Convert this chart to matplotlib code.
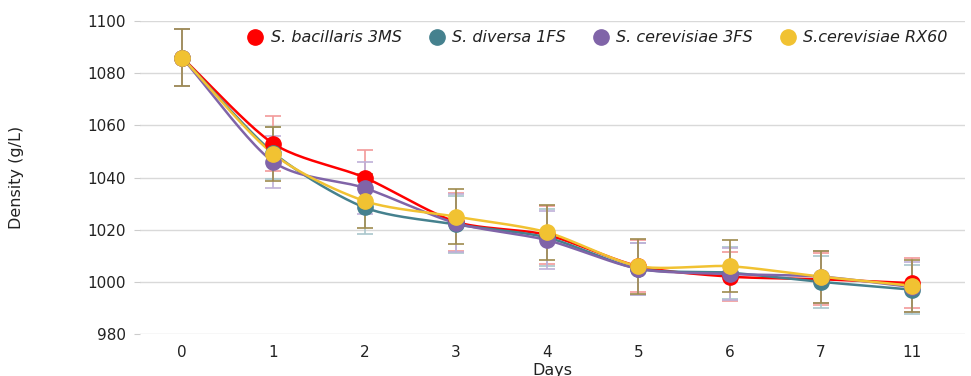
import numpy as np
import matplotlib
matplotlib.use("Agg")
import matplotlib.pyplot as plt
from matplotlib.lines import Line2D

plt.rcParams['font.family'] = ['DejaVu Sans']

days = ['0', '1', '2', '3', '4', '5', '6', '7', '11']
series_names = ['S. bacillaris 3MS', 'S. diversa 1FS', 'S. cerevisiae 3FS', 'S.cerevisiae RX60']
bacillaris = [1086, 1053, 1040, 1023, 1018, 1006, 1002, 1001, 999.5]
diversa = [1086, 1049.5, 1028.5, 1022, 1017, 1005, 1003.5, 1000, 997]
cerevisiae_3fs = [1086, 1046, 1036, 1022.5, 1016, 1005, 1003, 1002, 998]
cerevisiae_rx60 = [1086, 1049, 1031, 1025, 1019, 1006, 1006, 1002, 998.5]
bacillaris_err = [11, 10.5, 10.5, 11, 11, 10, 9.5, 10, 9.5]
diversa_err = [11, 10, 10, 11, 11, 10, 10, 10, 9.5]
cerevisiae_3fs_err = [11, 10, 10, 11, 11, 10, 10, 10, 9.5]
cerevisiae_rx60_err = [11, 10.5, 10.5, 10.5, 10.5, 10.5, 10, 10, 10]

values = [bacillaris, diversa, cerevisiae_3fs, cerevisiae_rx60]
errors = [bacillaris_err, diversa_err, cerevisiae_3fs_err, cerevisiae_rx60_err]
colors = ['#ff0000', '#45818e', '#8064a8', '#f1c232']
err_colors = ['#f29a9a', '#a9c6cc', '#bfb0d8', '#9e8b4e']


def smooth(x, y, n=24):
    x = np.asarray(x, float)
    y = np.asarray(y, float)
    px = np.concatenate([[2 * x[0] - x[1]], x, [2 * x[-1] - x[-2]]])
    py = np.concatenate([[2 * y[0] - y[1]], y, [2 * y[-1] - y[-2]]])
    xs, ys = [], []
    t = np.linspace(0, 1, n)
    for i in range(1, len(px) - 2):
        for arr, out in ((px, xs), (py, ys)):
            p0, p1, p2, p3 = arr[i - 1], arr[i], arr[i + 1], arr[i + 2]
            m1 = (p2 - p0) / 2 * 0.8
            m2 = (p3 - p1) / 2 * 0.8
            h00 = 2 * t**3 - 3 * t**2 + 1
            h10 = t**3 - 2 * t**2 + t
            h01 = -2 * t**3 + 3 * t**2
            h11 = t**3 - t**2
            out.extend(h00 * p1 + h10 * m1 + h01 * p2 + h11 * m2)
    return np.array(xs), np.array(ys)


fig = plt.figure(figsize=(9.71, 3.76), dpi=100)
ax = fig.add_axes([140 / 971, 1 - 334 / 376, (965 - 140) / 971, (334 - 21) / 376])

x = np.arange(len(days))
for vals, errs, c, ec in zip(values, errors, colors, err_colors):
    ax.errorbar(x, vals, yerr=errs, fmt='none', ecolor=ec, elinewidth=1.2,
                capsize=6, capthick=1.2, zorder=2)
for vals, c in zip(values, colors):
    sx, sy = smooth(x, vals)
    ax.plot(sx, sy, color=c, lw=1.8, zorder=3)
    ax.plot(x, vals, 'o', color=c, ms=11, mec=c, zorder=4)

ax.set_xlim(-0.46, 8.58)
ax.set_ylim(980, 1100)
ax.set_yticks(np.arange(980, 1101, 20))
ax.set_xticks(x)
ax.set_xticklabels(days)
for s in ax.spines.values():
    s.set_visible(False)
ax.grid(axis='y', color='#d9d9d9', lw=1)
ax.set_axisbelow(True)
ax.tick_params(axis='x', length=0, labelsize=11, pad=8)
ax.tick_params(axis='y', length=4, color='#cccccc', labelsize=11, pad=6)
for lbl in ax.get_yticklabels() + ax.get_xticklabels():
    lbl.set_color('#222222')
ax.set_xlabel('Days', fontsize=11.5, labelpad=2, color='#222222')
ax.set_ylabel('Density (g/L)', fontsize=11.5, labelpad=46, color='#222222')

handles = [Line2D([], [], marker='o', ls='none', color=c, ms=11) for c in colors]
leg = ax.legend(handles, series_names, loc='center right', bbox_to_anchor=(0.99, 0.946),
                ncol=4, frameon=False, handletextpad=0.35, columnspacing=1.6,
                prop={'style': 'italic', 'size': 11.5}, borderaxespad=0.2, handlelength=1.2)
for t in leg.get_texts():
    t.set_color('#222222')

fig.savefig('out.png', dpi=100)
